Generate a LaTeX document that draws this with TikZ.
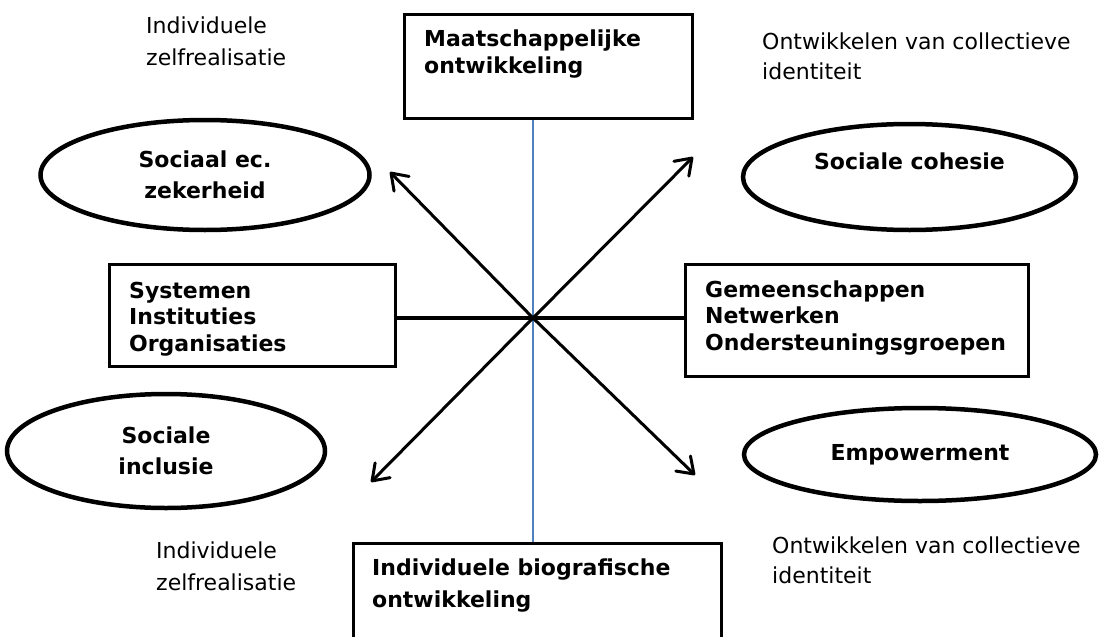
\documentclass[tikz,border=0pt]{standalone}
\usepackage{fontspec}
\setmainfont{DejaVu Sans}
\usetikzlibrary{arrows.meta,shapes.geometric}
\definecolor{axisblue}{HTML}{4F81BD}
\begin{document}
\begin{tikzpicture}[x=1pt,y=-1pt,
  box/.style={draw,line width=3.4pt,rectangle,inner sep=0pt},
  oval/.style={draw,line width=4.5pt,ellipse,inner sep=0pt,align=center,
    font=\bfseries\fontsize{22}{31}\selectfont},
  boxtext/.style={anchor=base west,inner sep=0pt,align=left,
    font=\bfseries\fontsize{22}{26.5}\selectfont},
  bigtext/.style={anchor=base west,inner sep=0pt,align=left,
    font=\bfseries\fontsize{22}{32}\selectfont},
  plaintext/.style={anchor=base west,inner sep=0pt,align=left,
    font=\fontsize{22}{32}\selectfont},
  axisline/.style={draw=axisblue,line width=2.4pt},
  link/.style={draw,line width=3.2pt},
  arrowline/.style={draw,line width=3pt,line cap=round,
    -{Straight Barb[length=15pt,width=21pt,line cap=round,line join=round]}}]
\clip (0,0) rectangle (1103,637);
\useasboundingbox (0,0) rectangle (1103,637);
\fill[white] (0,0) rectangle (1103,637);

% boxes
\node[box,minimum width=288pt,minimum height=104pt] (tb) at (548.5,66.5) {};
\node[box,minimum width=286pt,minimum height=102pt] (lb) at (252.5,315.5) {};
\node[box,minimum width=343pt,minimum height=112pt] (rb) at (857,320.5) {};
\node[box,minimum width=368pt,minimum height=155pt] (bb) at (537.5,621) {};

% box texts (anchor = baseline of the last line)
\node[boxtext] (tbt) at (424,73) {Maatschappelijke\\ontwikkeling};
\node[boxtext] (lbt) at (129,351) {Systemen\\Instituties\\Organisaties};
\node[boxtext] (rbt) at (705,350) {Gemeenschappen\\Netwerken\\Ondersteuningsgroepen};
\node[bigtext] (bbt) at (372,607) {Individuele biografische\\ontwikkeling};

% ellipses
\node[oval,minimum width=329pt,minimum height=110pt] (se) at (205,175) {Sociaal ec.\\zekerheid};
\node[oval,minimum width=333pt,minimum height=106pt] (sc) at (909.5,177) {Sociale cohesie\\\mbox{}};
\node[oval,minimum width=318pt,minimum height=114pt] (si) at (166,451) {Sociale\\inclusie};
\node[oval,minimum width=352pt,minimum height=93pt] (em) at (920,454.5) {Empowerment};

% plain texts
\node[plaintext] (tl) at (146,65) {Individuele\\zelfrealisatie};
\node[plaintext,font=\fontsize{22}{30}\selectfont] (tr) at (762,79) {Ontwikkelen van collectieve\\identiteit};
\node[plaintext] (bl) at (156,590) {Individuele\\zelfrealisatie};
\node[plaintext,font=\fontsize{22}{30}\selectfont] (br) at (772,583) {Ontwikkelen van collectieve\\identiteit};

% connectors
\coordinate (c) at (533,318);
\coordinate (tnw) at (390,172);
\coordinate (tne) at (693,157);
\coordinate (tse) at (695,475);
\coordinate (tsw) at (371,482);

\draw[axisline] (tb.south -| c) -- (bb.north -| c);
\draw[link] (lb.east |- c) -- (rb.west |- c);
\draw[arrowline] (c) -- (tnw);
\draw[arrowline] (c) -- (tne);
\draw[arrowline] (c) -- (tse);
\draw[arrowline] (c) -- (tsw);
\end{tikzpicture}
\end{document}
